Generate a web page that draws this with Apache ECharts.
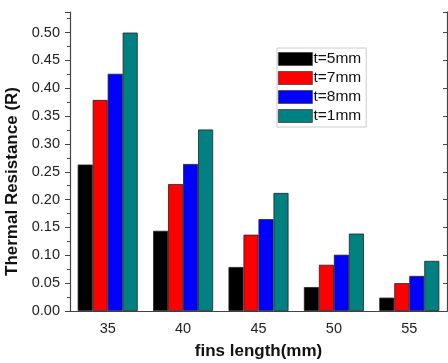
<!DOCTYPE html>
<html>
<head>
<meta charset="utf-8">
<script src="https://cdn.jsdelivr.net/npm/echarts@6/dist/echarts.min.js"></script>
<style>
html,body{margin:0;padding:0;background:#fff;}
#main{width:448px;height:363px;}
</style>
</head>
<body>
<div id="main"></div>
<script>
// fins length categories
var categories = ['35', '40', '45', '50', '55'];
// thermal resistance per thickness
var t5 = [0.263, 0.144, 0.079, 0.043, 0.024];
var t7 = [0.379, 0.228, 0.137, 0.083, 0.050];
var t8 = [0.426, 0.264, 0.165, 0.101, 0.063];
var t1 = [0.500, 0.326, 0.212, 0.139, 0.090];
var seriesNames = ['t=5mm', 't=7mm', 't=8mm', 't=1mm'];
var yTicks = [0, 0.05, 0.1, 0.15, 0.2, 0.25, 0.3, 0.35, 0.4, 0.45, 0.5];

var axisCol = '#444';
var fontFam = '"Liberation Sans", Arial, sans-serif';

function bar(name, data, color) {
    return {
        name: name,
        type: 'bar',
        data: data,
        barWidth: 15,
        barGap: '0%',
        itemStyle: { color: color, borderColor: '#222', borderWidth: 0.8 }
    };
}

var chart = echarts.init(document.getElementById('main'));
var option = {
    animation: false,
    textStyle: { fontFamily: fontFam },
    grid: { left: 70, top: 12, right: 1, bottom: 52, outerBoundsMode: 'none' },
    legend: {
        orient: 'vertical',
        left: 277,
        top: 48,
        data: seriesNames,
        itemWidth: 34,
        itemHeight: 13,
        itemGap: 3,
        padding: [3, 5, 3, 1],
        borderColor: '#ccc',
        borderWidth: 1,
        backgroundColor: '#fff',
        icon: 'rect',
        itemStyle: { borderColor: '#444', borderWidth: 0.8 },
        textStyle: { fontSize: 15.5, lineHeight: 14, color: '#111', fontFamily: fontFam, padding: [0, 0, 0, -4] }
    },
    xAxis: [{
        type: 'category',
        data: categories,
        name: 'fins length(mm)',
        nameLocation: 'middle',
        nameGap: 32,
        nameTextStyle: { fontSize: 17, fontWeight: 'bold', color: '#111' },
        axisLine: { lineStyle: { color: axisCol, width: 1.2 } },
        axisTick: { alignWithLabel: true, length: 4, lineStyle: { color: axisCol } },
        axisLabel: { fontSize: 14.5, color: '#222', margin: 10 }
    }, {
        type: 'category',
        data: categories,
        position: 'top',
        axisLine: { lineStyle: { color: axisCol, width: 1.2 } },
        axisTick: { inside: true, length: 4, lineStyle: { color: axisCol } },
        axisLabel: { show: false }
    }],
    yAxis: [{
        type: 'value',
        min: 0,
        max: 0.537,
        interval: 0.05,
        name: 'Thermal Resistance (R)',
        nameLocation: 'middle',
        nameGap: 44,
        nameTextStyle: { fontSize: 17, fontWeight: 'bold', color: '#111', padding: [0, 40, 0, 0] },
        splitLine: { show: false },
        axisLine: { show: true, lineStyle: { color: axisCol, width: 1.2 } },
        axisTick: { show: true, length: 5, lineStyle: { color: axisCol } },
        minorTick: { show: true, splitNumber: 2, length: 3, lineStyle: { color: axisCol } },
        axisLabel: {
            fontSize: 14.5, color: '#222', margin: 10,
            formatter: function (v) {
                for (var i = 0; i < yTicks.length; i++) {
                    if (Math.abs(yTicks[i] - v) < 1e-6) return v.toFixed(2);
                }
                return '';
            }
        }
    }, {
        type: 'value',
        min: 0,
        max: 0.537,
        interval: 0.05,
        position: 'right',
        splitLine: { show: false },
        axisLine: { show: true, lineStyle: { color: axisCol, width: 1.2 } },
        axisTick: { show: true, inside: true, length: 4, lineStyle: { color: axisCol } },
        axisLabel: { show: false }
    }],
    series: [
        bar(seriesNames[0], t5, '#000000'),
        bar(seriesNames[1], t7, '#ff0000'),
        bar(seriesNames[2], t8, '#0000ff'),
        bar(seriesNames[3], t1, '#008080')
    ]
};
chart.setOption(option);
</script>
</body>
</html>
